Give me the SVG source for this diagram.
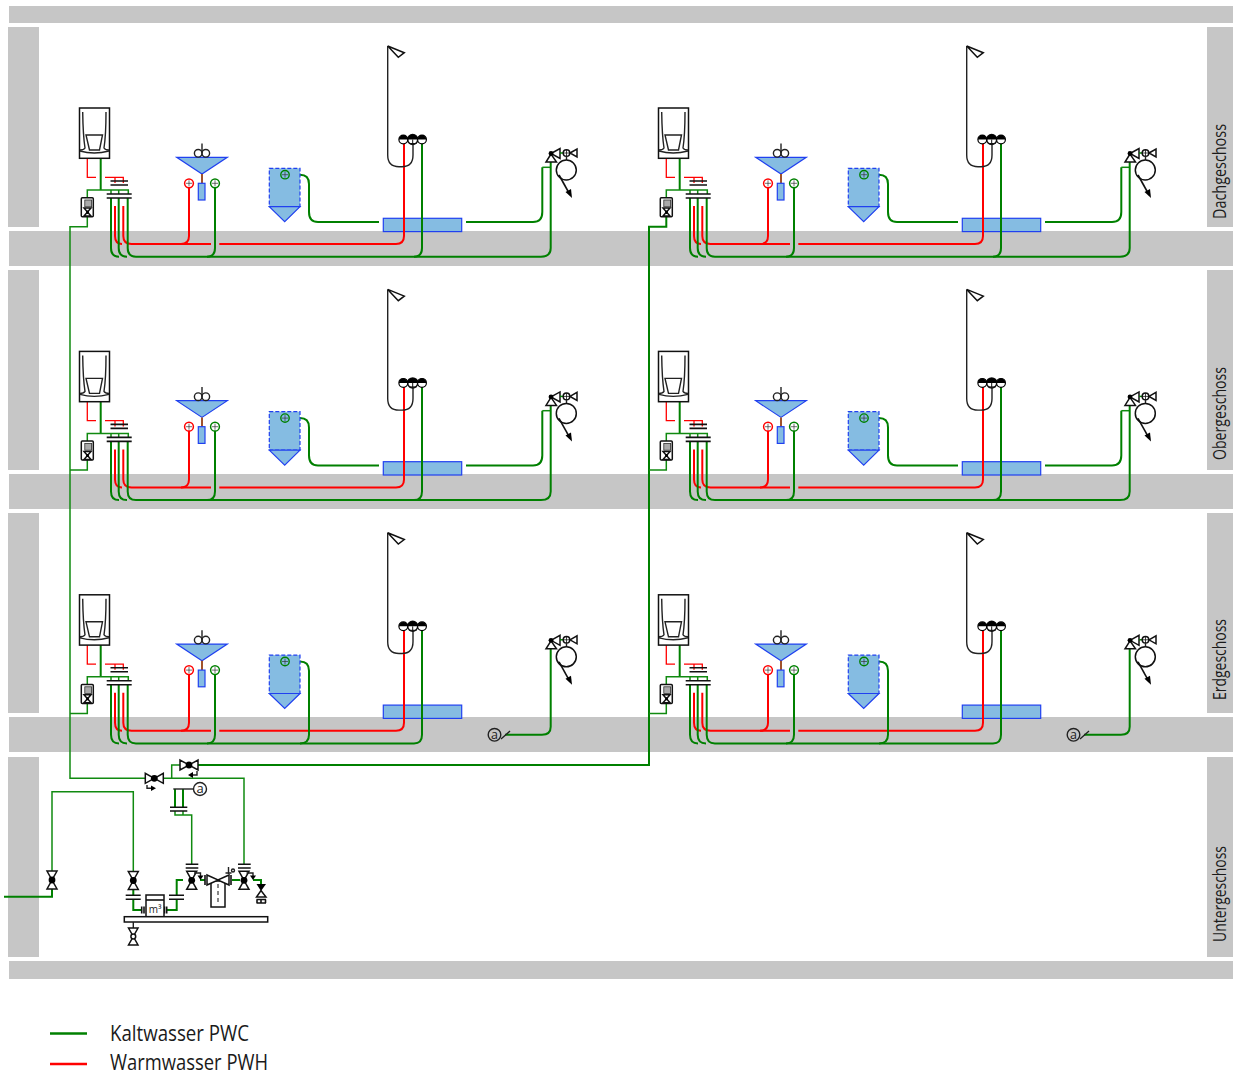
<svg xmlns="http://www.w3.org/2000/svg" width="1233" height="1073" viewBox="0 0 1233 1073">
<style>
.w{fill:#c6c6c6}
.t{font-family:"Open Sans","Noto Sans","Liberation Sans",sans-serif;fill:#1a1a1a}
.lab{font-size:17.5px}
.leg{font-size:21.5px}
.g{fill:none;stroke:#008000;stroke-width:2}
.gt{fill:none;stroke:#108a10;stroke-width:1.5}
.r{fill:none;stroke:#f00;stroke-width:2}
.rt{fill:none;stroke:#f00;stroke-width:1.3}
.k{fill:#fff;stroke:#111;stroke-width:1.5}
.kn{fill:none;stroke:#222;stroke-width:1.4}
.kb{fill:none;stroke:#111;stroke-width:1.6}
.bl{fill:#85bce2;stroke:#2040f0;stroke-width:1.2}
.d{fill:#000}
</style>
<defs>
<g id="v"><path class="k" d="M-5-9H5L0 0L5 9H-5L0 0Z"/><circle class="d" r="3.4"/></g>
<g id="vh"><path class="k" d="M-9-5V5L0 0L9 5V-5L0 0Z"/><circle class="d" r="3.4"/></g>
<g id="s-heater"><rect class="k" x="79.5" y="108" width="30" height="50.3"/><path class="kn" d="M82.7 112Q83 135 85 148Q84 150 80 150M106 112Q106 135 104 148Q105 150 109 150M80 151Q94 155 109 151M86 135H102.5L99.5 150H89.5Z"/></g>
<g id="s-device"><rect class="k" x="81.3" y="197.7" width="12" height="19" rx="1"/><rect x="84.8" y="200" width="6.8" height="6.8" fill="#aaa" stroke="#333" stroke-width=".8"/><path class="k" d="M84 208H91L87.5 212L91 216H84L87.5 212Z"/><circle class="d" cx="87.5" cy="212" r="1.5"/></g>
<g id="s-bars"><path class="kb" d="M106.7 194H131.7M106.7 198H131.7M110.5 181H120M110.5 185H120M118.5 181H128M118.5 185H128"/></g>
<g id="s-sink"><path class="bl" d="M176.7 157.3H227.3L202 174Z"/><path d="M202 143.5V153" class="kn"/><circle class="kn" cx="198.2" cy="153.3" r="3.8"/><circle class="kn" cx="205.8" cy="153.3" r="3.8"/><path d="M202 174V183.3" fill="none" stroke="#a0522d" stroke-width="2"/><rect class="bl" x="198.3" y="183.3" width="6.7" height="16.7"/><circle cx="189" cy="183.3" r="4.4" fill="#fff" stroke="#f00" stroke-width="1.5"/><path d="M186 183.3H192M189 180.3V186.3" stroke="#333" stroke-width=".7"/><circle cx="215" cy="183.3" r="4.4" fill="#fff" stroke="#008000" stroke-width="1.5"/><path d="M212 183.3H218M215 180.3V186.3" stroke="#333" stroke-width=".7"/></g>
<g id="s-tub"><rect x="269.3" y="168.3" width="30.7" height="38.4" fill="#85bce2" stroke="#2040f0" stroke-width="1.2" stroke-dasharray="4 2"/><path class="bl" d="M269.3 206.7H300L284.7 221.7Z"/><circle cx="285" cy="174.7" r="4.2" fill="#85bce2" stroke="#008000" stroke-width="1.4"/><path d="M282 174.7H288M285 171.7V177.7" stroke="#333" stroke-width=".7"/></g>
<g id="s-bath"><rect class="bl" x="383.3" y="218.3" width="78.4" height="13.3"/></g>
<g id="s-shower"><path class="kn" d="M387.7 46V155Q387.7 166.7 399 166.7H402Q413 166.7 413 155V143"/><path class="k" d="M387.7 46L404.3 52.7L398.3 57.3Z"/><circle cx="412.7" cy="139.5" r="5" fill="#fff" stroke="#111" stroke-width="1.5"/><path d="M407.7 139.5A5 5 0 0 1 417.7 139.5Z" class="d"/><path d="M412.7 139.5V144.5M409 143.5H416.5" stroke="#111" stroke-width="1"/><circle cx="403.3" cy="139.5" r="4.4" fill="#fff" stroke="#000" stroke-width="1.2"/><path class="d" d="M398.9 139.5A4.4 4.4 0 0 1 407.7 139.5Z"/><circle cx="422" cy="139.5" r="4.4" fill="#fff" stroke="#000" stroke-width="1.2"/><path class="d" d="M417.6 139.5A4.4 4.4 0 0 1 426.4 139.5Z"/></g>
<g id="s-washer"><path class="k" d="M551 154L546 162H556.5Z"/><path class="k" d="M551 153.5L560 148.5V158.5Z"/><path d="M560 153H563" fill="none" stroke="#008000" stroke-width="1.5"/><circle class="k" cx="566.5" cy="153" r="3.3"/><path d="M563.2 153H569.8M566.5 149.7V156.3" stroke="#111" stroke-width=".8"/><path class="k" d="M570 153L577 149V157Z"/><circle class="d" cx="551" cy="153.5" r="2.4"/><path class="kn" d="M566.5 156.3V160"/><circle class="k" cx="566.3" cy="170" r="10"/><path class="kb" d="M559 175L569 193"/><path class="d" d="M572 198L565.5 192L571 189Z"/></g>
<g id="p-common">
<path class="rt" d="M87.3 158V177.3H96M105 177.3H123.3V183M115 177.3V183"/>
<path class="g" d="M100.7 158V190"/>
<path class="gt" d="M87.3 197.7V190H128.3V194M111 190V194M118.7 190V194"/>
<path class="r" d="M115 206V236Q115 244 122 244M123.3 206V236Q123.3 244 131.5 244H211M219.3 244H396Q404 244 404 236V143"/>
<path class="r" d="M189 187.5V236Q189 244 181 244"/>
<path class="g" d="M111 198V248Q111 256.7 119 256.7M118.7 198V248Q118.7 256.7 127 256.7M127.7 198V248Q127.7 256.7 136 256.7H414"/>
<path class="g" d="M215 187.5V248Q215 256.7 207 256.7"/>
<path class="g" d="M414 256.7Q422 256.7 422 248V143"/>
</g>
<g id="p-upper">
<path class="g" d="M289 174.7H300Q309 174.7 309 184V212Q309 222 318 222H379M466 222H533Q542.3 222 542.3 212V167.3"/>
<path class="gt" d="M542.3 167.3H550"/>
<path class="g" d="M414 256.7H541Q550.7 256.7 550.7 248V161.7"/>
</g>
<g id="p-ground">
<path class="g" d="M289 174.7H300Q309 174.7 309 184V248Q309 256.7 300 256.7"/>
<path class="g" d="M505 248H542Q550.7 248 550.7 240V161.7"/>
</g>
</defs>

<g id="building">
<rect class="w" x="9" y="6" width="1224" height="17"/>
<rect class="w" x="8" y="27" width="31" height="200"/><rect class="w" x="8" y="270" width="31" height="200"/><rect class="w" x="8" y="513" width="31" height="200"/><rect class="w" x="8" y="757" width="31" height="200"/>
<rect class="w" x="1207" y="27" width="26" height="200"/><rect class="w" x="1207" y="270" width="26" height="200"/><rect class="w" x="1207" y="513" width="26" height="200"/><rect class="w" x="1207" y="757" width="26" height="200"/>
<rect class="w" x="9" y="231" width="1224" height="35"/><rect class="w" x="9" y="474" width="1224" height="35"/><rect class="w" x="9" y="717" width="1224" height="35"/><rect class="w" x="9" y="961" width="1224" height="18"/>
</g>

<g id="baths">
<g id="bath-dg-l"><use href="#s-bath"/></g>
<g id="bath-dg-r" transform="translate(579 0)"><use href="#s-bath"/></g>
<g id="bath-og-l" transform="translate(0 243.4)"><use href="#s-bath"/></g>
<g id="bath-og-r" transform="translate(579 243.4)"><use href="#s-bath"/></g>
<g id="bath-eg-l" transform="translate(0 486.8)"><use href="#s-bath"/></g>
<g id="bath-eg-r" transform="translate(579 486.8)"><use href="#s-bath"/></g>
</g>

<g id="connectors">
<use href="#p-common"/><use href="#p-upper"/>
<use href="#p-common" x="579"/><use href="#p-upper" x="579"/>
<use href="#p-common" y="243.4"/><use href="#p-upper" y="243.4"/>
<use href="#p-common" x="579" y="243.4"/><use href="#p-upper" x="579" y="243.4"/>
<use href="#p-common" y="486.8"/><use href="#p-ground" y="486.8"/>
<use href="#p-common" x="579" y="486.8"/><use href="#p-ground" x="579" y="486.8"/>
<path class="gt" d="M87.3 216.7V226.7H70V778.3H146M87.3 460V470.1H70M87.3 703.5V713.5H70"/>
<path class="g" d="M666.3 216.7V226.7H649V765H198"/>
<path class="gt" d="M666.3 460V470.1H649M666.3 703.5V713.5H649"/>
<path class="gt" d="M163 778.3H244V865M171.7 778.3V765H180"/>
<path class="g" d="M175 789V807M183 789V807"/>
<path class="gt" d="M175 811V815H191.7V865M183 811V815"/>
<path class="g" d="M4 896.7H52V889"/>
<path class="gt" d="M52 871V791.7H133.3V871.7"/>
<path class="g" d="M133.3 889V895M133.3 899V910H141.7M166.7 910H176.7V899M176.7 895V880H183M200 880H205M232 880H240M253 880H261V884"/>
</g>

<g id="dg-l"><g id="dg-l-heater"><use href="#s-heater"/></g><g id="dg-l-device"><use href="#s-device"/></g><g id="dg-l-bars"><use href="#s-bars"/></g><g id="dg-l-sink"><use href="#s-sink"/></g><g id="dg-l-tub"><use href="#s-tub"/></g><g id="dg-l-shower"><use href="#s-shower"/></g><g id="dg-l-washer"><use href="#s-washer"/></g></g>
<g id="dg-r" transform="translate(579 0)"><g id="dg-r-heater"><use href="#s-heater"/></g><g id="dg-r-device"><use href="#s-device"/></g><g id="dg-r-bars"><use href="#s-bars"/></g><g id="dg-r-sink"><use href="#s-sink"/></g><g id="dg-r-tub"><use href="#s-tub"/></g><g id="dg-r-shower"><use href="#s-shower"/></g><g id="dg-r-washer"><use href="#s-washer"/></g></g>
<g id="og-l" transform="translate(0 243.4)"><g id="og-l-heater"><use href="#s-heater"/></g><g id="og-l-device"><use href="#s-device"/></g><g id="og-l-bars"><use href="#s-bars"/></g><g id="og-l-sink"><use href="#s-sink"/></g><g id="og-l-tub"><use href="#s-tub"/></g><g id="og-l-shower"><use href="#s-shower"/></g><g id="og-l-washer"><use href="#s-washer"/></g></g>
<g id="og-r" transform="translate(579 243.4)"><g id="og-r-heater"><use href="#s-heater"/></g><g id="og-r-device"><use href="#s-device"/></g><g id="og-r-bars"><use href="#s-bars"/></g><g id="og-r-sink"><use href="#s-sink"/></g><g id="og-r-tub"><use href="#s-tub"/></g><g id="og-r-shower"><use href="#s-shower"/></g><g id="og-r-washer"><use href="#s-washer"/></g></g>
<g id="eg-l" transform="translate(0 486.8)"><g id="eg-l-heater"><use href="#s-heater"/></g><g id="eg-l-device"><use href="#s-device"/></g><g id="eg-l-bars"><use href="#s-bars"/></g><g id="eg-l-sink"><use href="#s-sink"/></g><g id="eg-l-tub"><use href="#s-tub"/></g><g id="eg-l-shower"><use href="#s-shower"/></g><g id="eg-l-washer"><use href="#s-washer"/></g></g>
<g id="eg-r" transform="translate(579 486.8)"><g id="eg-r-heater"><use href="#s-heater"/></g><g id="eg-r-device"><use href="#s-device"/></g><g id="eg-r-bars"><use href="#s-bars"/></g><g id="eg-r-sink"><use href="#s-sink"/></g><g id="eg-r-tub"><use href="#s-tub"/></g><g id="eg-r-shower"><use href="#s-shower"/></g><g id="eg-r-washer"><use href="#s-washer"/></g></g>

<g id="tag-a-l"><circle class="kn" cx="494.5" cy="734.8" r="6.3"/><text class="t" x="494.5" y="739" font-size="12.5" text-anchor="middle">a</text><path class="kn" d="M501 739L510 731"/></g>
<g id="tag-a-r" transform="translate(579 0)"><circle class="kn" cx="494.5" cy="734.8" r="6.3"/><text class="t" x="494.5" y="739" font-size="12.5" text-anchor="middle">a</text><path class="kn" d="M501 739L510 731"/></g>

<g id="valve-riser-l"><use href="#vh" transform="translate(154.3 778.3)"/><path class="kn" d="M147 785V788.3H152"/><path class="d" d="M156 788.3L151 785.5V791Z"/></g>
<g id="valve-riser-r"><use href="#vh" transform="translate(189 765)"/><path class="kn" d="M197 771V775H192"/><path class="d" d="M188 775L193 772V778Z"/></g>
<g id="tag-a-c"><circle class="kn" cx="200" cy="789" r="6.5"/><text class="t" x="200" y="793.3" font-size="13" text-anchor="middle">a</text><path class="kn" d="M173.3 789H193.5"/></g>
<g id="bars-c"><path class="kb" d="M170 807.3H187.3M170 811H187.3M185.7 864.3H198.3M185.7 868H198.3M238 864.3H250.7M238 868H250.7M125.7 895.3H140.7M125.7 899.3H140.7M169 895.3H184M169 899.3H184"/></g>
<g id="valve-entry"><use href="#v" transform="translate(52 880)"/></g>
<g id="valve-main"><use href="#v" transform="translate(133.3 880.5)"/></g>
<g id="valve-a"><use href="#v" transform="translate(191.7 880.3)"/><path class="kn" d="M194 873H200.5V876"/><path class="d" d="M200.5 880L197.5 875.5H203.5Z"/></g>
<g id="valve-b"><use href="#v" transform="translate(244 880.3)"/><path class="kn" d="M246.5 873H253V876"/><path class="d" d="M253 880L250 875.5H256Z"/></g>
<g id="meter"><path class="kb" d="M141.7 906.5V913.5M144 906.5V913.5M166.7 906.5V913.5M164.5 906.5V913.5"/><rect class="k" x="146" y="895" width="18" height="21.7"/><path class="kb" d="M146 900H164"/><text class="t" x="155" y="913" font-size="10" text-anchor="middle">m³</text></g>
<g id="base"><rect class="k" x="124.3" y="916.7" width="143.4" height="5.3"/></g>
<g id="drain"><path class="kn" d="M133.3 922V928"/><path class="k" d="M128.5 928H138L133.3 936.5L138 945H128.5L133.3 936.5Z"/><circle class="k" cx="133.3" cy="936.5" r="2.4"/></g>
<g id="filter"><rect class="k" x="211" y="881" width="14" height="26"/><path d="M218 884V905" fill="none" stroke="#111" stroke-width="1" stroke-dasharray="4 3"/><path class="k" d="M207 875V885L218 880L229 885V875L218 880Z"/><path class="kb" d="M205 875V885M231 875V885"/><path class="kn" d="M228.5 867V874M225.5 873H231.5"/><circle class="kn" cx="233" cy="870.5" r="1.5"/></g>
<g id="valve-c"><path class="k" d="M256.5 897H266L261 890.5Z"/><path class="d" d="M256.5 884H266L261 891Z"/><path class="kb" d="M256.5 899.5H266M257 899.5V903M261 899.5V903M265.5 899.5V903M256.5 903H266"/></g>

<g id="labels">
<text class="t lab" transform="translate(1226 219) rotate(-90)" textLength="95" lengthAdjust="spacingAndGlyphs">Dachgeschoss</text>
<text class="t lab" transform="translate(1226 460) rotate(-90)" textLength="93" lengthAdjust="spacingAndGlyphs">Obergeschoss</text>
<text class="t lab" transform="translate(1226 700) rotate(-90)" textLength="81" lengthAdjust="spacingAndGlyphs">Erdgeschoss</text>
<text class="t lab" transform="translate(1226 942) rotate(-90)" textLength="96" lengthAdjust="spacingAndGlyphs">Untergeschoss</text>
</g>
<g id="legend">
<path d="M50 1033.5H87" stroke="#008000" stroke-width="2.4"/><path d="M50 1064H87" stroke="#f00" stroke-width="2.4"/>
<text class="t leg" x="110" y="1040.5" textLength="139" lengthAdjust="spacingAndGlyphs">Kaltwasser PWC</text>
<text class="t leg" x="110" y="1070" textLength="158" lengthAdjust="spacingAndGlyphs">Warmwasser PWH</text>
</g>
</svg>
